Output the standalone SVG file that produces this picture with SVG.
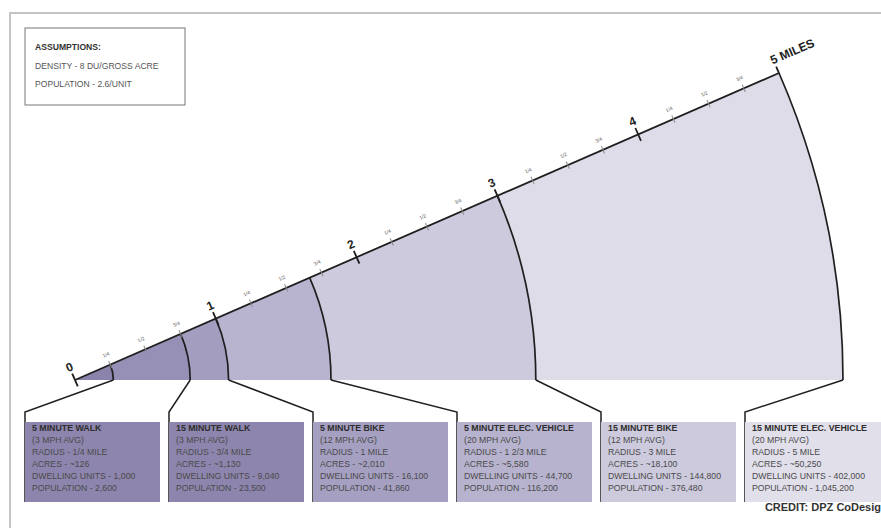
<svg xmlns="http://www.w3.org/2000/svg" width="881" height="528" viewBox="0 0 881 528">
<style>
text{font-family:"Liberation Sans",Arial,sans-serif}
.frame{fill:none;stroke:#c4c4c4;stroke-width:2}
.arc{fill:none;stroke:#1f1f1f;stroke-width:1.7}
.conn{fill:none;stroke:#1f1f1f;stroke-width:1.5}
.ray{stroke:#1f1f1f;stroke-width:1.8}
.major{stroke:#1f1f1f;stroke-width:1.8}
.minor{stroke:#8a8a8a;stroke-width:1}
.ml{font-size:12px;font-weight:bold;fill:#222;text-anchor:middle}
.sl{font-size:5px;fill:#555;text-anchor:middle}
.bt{font-size:8.8px;font-weight:bold;fill:#2e2e2e}
.bx{font-size:8.7px;fill:#4a4a4a}
.asm{font-size:8.6px;fill:#555}
</style>
<path class="frame" d="M10,528 L10,13 L881,13"/>
<g id="assumptions">
<rect x="25" y="28" width="160" height="77" fill="#fff" stroke="#777" stroke-width="1"/>
<text x="35" y="50" class="asm" style="font-weight:bold;fill:#333">ASSUMPTIONS:</text>
<text x="35" y="69" class="asm">DENSITY - 8 DU/GROSS ACRE</text>
<text x="35" y="87" class="asm">POPULATION - 2.6/UNIT</text>
</g>
<g id="sectors">
<path d="M75,380 L843,380 A768,768 0 0 0 778.99,72.99 Z" fill="#dedce9"/>
<path d="M75,380 L535.8,380 A460.8,460.8 0 0 0 497.39,195.79 Z" fill="#cdcadd"/>
<path d="M75,380 L331,380 A256,256 0 0 0 309.66,277.66 Z" fill="#b8b4cf"/>
<path d="M75,380 L228.6,380 A153.6,153.6 0 0 0 215.8,318.6 Z" fill="#a39ec0"/>
<path d="M75,380 L190.2,380 A115.2,115.2 0 0 0 180.6,333.95 Z" fill="#9690b6"/>
<path d="M75,380 L113.4,380 A38.4,38.4 0 0 0 110.2,364.65 Z" fill="#8b83ab"/>
</g>
<g id="arcs">
<path class="arc" d="M113.4,380 A38.4,38.4 0 0 0 110.2,364.65"/>
<path class="arc" d="M190.2,380 A115.2,115.2 0 0 0 180.6,333.95"/>
<path class="arc" d="M228.6,380 A153.6,153.6 0 0 0 215.8,318.6"/>
<path class="arc" d="M331,380 A256,256 0 0 0 309.66,277.66"/>
<path class="arc" d="M535.8,380 A460.8,460.8 0 0 0 497.39,195.79"/>
<path class="arc" d="M843,380 A768,768 0 0 0 778.99,72.99"/>
</g>
<g id="scale" transform="translate(75,380) rotate(-23.56)">
<line class="ray" x1="0" y1="0" x2="768" y2="0"/>
<g class="minor">
<line x1="38.4" y1="-4" x2="38.4" y2="4"/><line x1="76.8" y1="-4" x2="76.8" y2="4"/><line x1="115.2" y1="-4" x2="115.2" y2="4"/>
<line x1="192" y1="-4" x2="192" y2="4"/><line x1="230.4" y1="-4" x2="230.4" y2="4"/><line x1="268.8" y1="-4" x2="268.8" y2="4"/>
<line x1="345.6" y1="-4" x2="345.6" y2="4"/><line x1="384" y1="-4" x2="384" y2="4"/><line x1="422.4" y1="-4" x2="422.4" y2="4"/>
<line x1="499.2" y1="-4" x2="499.2" y2="4"/><line x1="537.6" y1="-4" x2="537.6" y2="4"/><line x1="576" y1="-4" x2="576" y2="4"/>
<line x1="652.8" y1="-4" x2="652.8" y2="4"/><line x1="691.2" y1="-4" x2="691.2" y2="4"/><line x1="729.6" y1="-4" x2="729.6" y2="4"/>
</g>
<g class="major">
<line x1="0" y1="-7" x2="0" y2="7"/><line x1="153.6" y1="-7" x2="153.6" y2="7"/><line x1="307.2" y1="-7" x2="307.2" y2="7"/>
<line x1="460.8" y1="-7" x2="460.8" y2="7"/><line x1="614.4" y1="-7" x2="614.4" y2="7"/><line x1="768" y1="-7" x2="768" y2="0"/>
</g>
<text class="sl" x="38.4" y="-9">1/4</text><text class="sl" x="76.8" y="-9">1/2</text><text class="sl" x="115.2" y="-9">3/4</text>
<text class="sl" x="192" y="-9">1/4</text><text class="sl" x="230.4" y="-9">1/2</text><text class="sl" x="268.8" y="-9">3/4</text>
<text class="sl" x="345.6" y="-9">1/4</text><text class="sl" x="384" y="-9">1/2</text><text class="sl" x="422.4" y="-9">3/4</text>
<text class="sl" x="499.2" y="-9">1/4</text><text class="sl" x="537.6" y="-9">1/2</text><text class="sl" x="576" y="-9">3/4</text>
<text class="sl" x="652.8" y="-9">1/4</text><text class="sl" x="691.2" y="-9">1/2</text><text class="sl" x="729.6" y="-9">3/4</text>
<text class="ml" x="0" y="-10">0</text>
<text class="ml" x="153.6" y="-10">1</text>
<text class="ml" x="307.2" y="-10">2</text>
<text class="ml" x="460.8" y="-10">3</text>
<text class="ml" x="614.4" y="-10">4</text>
<text class="ml" x="765.5" y="-10.3" style="text-anchor:start">5 MILES</text>
</g>
<g id="connectors">
<polyline class="conn" points="113.4,380 25,412 25,502"/>
<polyline class="conn" points="190.2,380 169,412 169,502"/>
<polyline class="conn" points="228.6,380 313,412 313,502"/>
<polyline class="conn" points="331,380 457,412 457,502"/>
<polyline class="conn" points="535.8,380 601,412 601,502"/>
<polyline class="conn" points="843,380 745,412 745,502"/>
</g>
<g id="box1">
<rect x="25" y="422" width="135" height="80" fill="#8d85ad"/>
<text class="bt" x="32" y="431">5 MINUTE WALK</text>
<text class="bx" x="32" y="443">(3 MPH AVG)</text>
<text class="bx" x="32" y="455">RADIUS - 1/4 MILE</text>
<text class="bx" x="32" y="467">ACRES - ~126</text>
<text class="bx" x="32" y="479">DWELLING UNITS - 1,000</text>
<text class="bx" x="32" y="491">POPULATION - 2,600</text>
</g>
<g id="box2">
<rect x="169" y="422" width="135" height="80" fill="#8d85ad"/>
<text class="bt" x="176" y="431">15 MINUTE WALK</text>
<text class="bx" x="176" y="443">(3 MPH AVG)</text>
<text class="bx" x="176" y="455">RADIUS - 3/4 MILE</text>
<text class="bx" x="176" y="467">ACRES - ~1,130</text>
<text class="bx" x="176" y="479">DWELLING UNITS - 9,040</text>
<text class="bx" x="176" y="491">POPULATION - 23,500</text>
</g>
<g id="box3">
<rect x="313" y="422" width="135" height="80" fill="#a59fc1"/>
<text class="bt" x="320" y="431">5 MINUTE BIKE</text>
<text class="bx" x="320" y="443">(12 MPH AVG)</text>
<text class="bx" x="320" y="455">RADIUS - 1 MILE</text>
<text class="bx" x="320" y="467">ACRES - ~2,010</text>
<text class="bx" x="320" y="479">DWELLING UNITS - 16,100</text>
<text class="bx" x="320" y="491">POPULATION - 41,860</text>
</g>
<g id="box4">
<rect x="457" y="422" width="135" height="80" fill="#b7b3ce"/>
<text class="bt" x="464" y="431">5 MINUTE ELEC. VEHICLE</text>
<text class="bx" x="464" y="443">(20 MPH AVG)</text>
<text class="bx" x="464" y="455">RADIUS - 1 2/3 MILE</text>
<text class="bx" x="464" y="467">ACRES - ~5,580</text>
<text class="bx" x="464" y="479">DWELLING UNITS - 44,700</text>
<text class="bx" x="464" y="491">POPULATION - 116,200</text>
</g>
<g id="box5">
<rect x="601" y="422" width="135" height="80" fill="#cdcadd"/>
<text class="bt" x="608" y="431">15 MINUTE BIKE</text>
<text class="bx" x="608" y="443">(12 MPH AVG)</text>
<text class="bx" x="608" y="455">RADIUS - 3 MILE</text>
<text class="bx" x="608" y="467">ACRES - ~18,100</text>
<text class="bx" x="608" y="479">DWELLING UNITS - 144,800</text>
<text class="bx" x="608" y="491">POPULATION - 376,480</text>
</g>
<g id="box6">
<rect x="745" y="422" width="136" height="80" fill="#e1dfea"/>
<text class="bt" x="752" y="431">15 MINUTE ELEC. VEHICLE</text>
<text class="bx" x="752" y="443">(20 MPH AVG)</text>
<text class="bx" x="752" y="455">RADIUS - 5 MILE</text>
<text class="bx" x="752" y="467">ACRES - ~50,250</text>
<text class="bx" x="752" y="479">DWELLING UNITS - 402,000</text>
<text class="bx" x="752" y="491">POPULATION - 1,045,200</text>
</g>
<text x="881" y="511" style="font-size:11px;font-weight:bold;fill:#333;text-anchor:end">CREDIT: DPZ CoDesig</text>
</svg>
